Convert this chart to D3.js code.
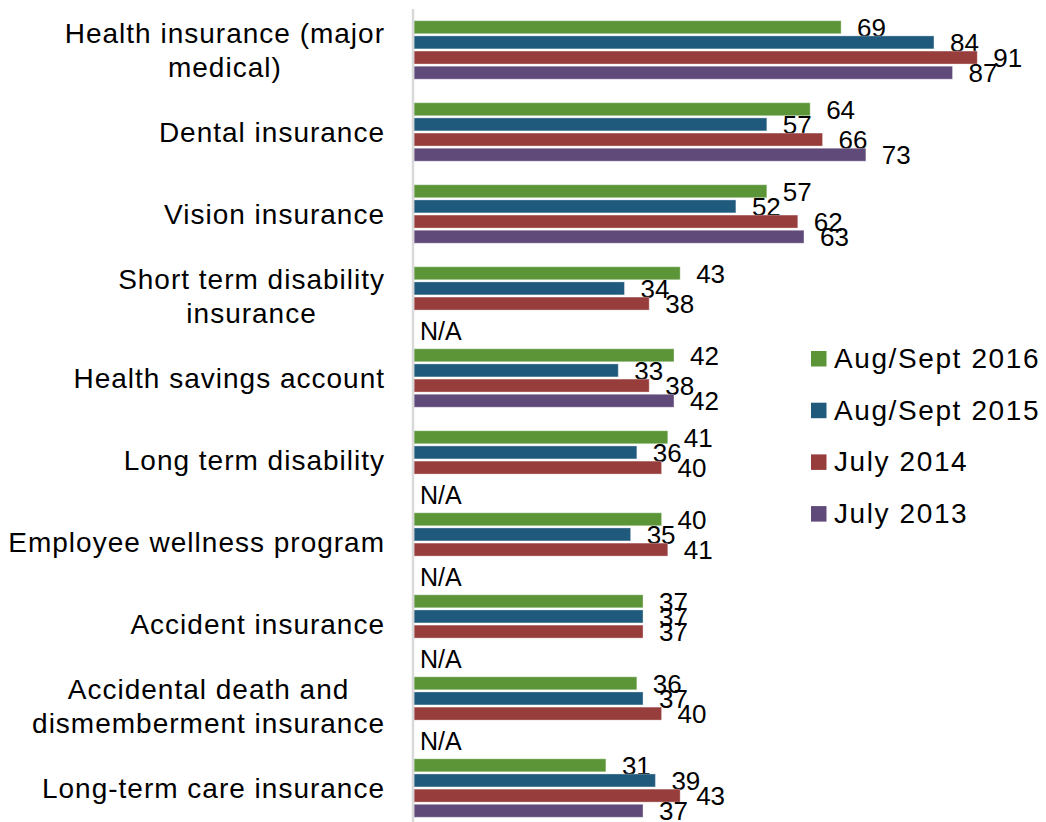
<!DOCTYPE html>
<html>
<head>
<meta charset="utf-8">
<script src="https://cdn.jsdelivr.net/npm/d3@7"></script>
<style>
  html, body { margin: 0; padding: 0; background: #fff; }
  svg { display: block; font-family: "Liberation Sans", Arial, sans-serif; }
</style>
</head>
<body>
<svg id="chart" width="1046" height="822"></svg>
<script>
// Benefit categories, top to bottom (each entry is the list of label lines)
const categories = [
  ["Health insurance (major", "medical)"],
  ["Dental insurance"],
  ["Vision insurance"],
  ["Short term disability", "insurance"],
  ["Health savings account"],
  ["Long term disability"],
  ["Employee wellness program"],
  ["Accident insurance"],
  ["Accidental death and", "dismemberment insurance"],
  ["Long-term care insurance"]
];
const seriesNames = ["Aug/Sept 2016", "Aug/Sept 2015", "July 2014", "July 2013"];
const seriesColors = ["#5b9538", "#1f5a7d", "#973d3c", "#604a7a"];

// Percent values per survey wave (null = not asked that year)
const values2016 = [69, 64, 57, 43, 42, 41, 40, 37, 36, 31];
const values2015 = [84, 57, 52, 34, 33, 36, 35, 37, 37, 39];
const values2014 = [91, 66, 62, 38, 38, 40, 41, 37, 40, 43];
const values2013 = [87, 73, 63, null, 42, null, null, null, null, 37];
const seriesValues = [values2016, values2015, values2014, values2013];

const svg = d3.select("#chart");

const catKeys = categories.map((c, i) => i);
const y0 = d3.scaleBand().domain(catKeys).range([9, 829])
  .paddingInner(0.287).paddingOuter(0.143);
const y1 = d3.scaleBand().domain(d3.range(seriesNames.length))
  .range([0, y0.bandwidth()]).paddingInner(0.143);
const x = d3.scaleLinear().domain([0, 100]).range([414, 1033]);

// Bars with value labels; missing waves get an "N/A" note
const groups = svg.append("g").selectAll("g")
  .data(catKeys).join("g")
  .attr("transform", d => `translate(0,${y0(d)})`);

groups.each(function(ci) {
  const g = d3.select(this);
  seriesValues.forEach((vals, si) => {
    const v = vals[ci];
    if (v === null) {
      g.append("text")
        .attr("x", x(0) + 6)
        .attr("y", y1(si) + y1.bandwidth() / 2 + 12)
        .attr("dy", "0.36em")
        .attr("font-size", 25)
        .attr("fill", "#000")
        .text("N/A");
      return;
    }
    g.append("rect")
      .attr("x", x(0))
      .attr("y", y1(si))
      .attr("width", x(v) - x(0))
      .attr("height", y1.bandwidth())
      .attr("fill", seriesColors[si])
      .attr("stroke", "rgba(255,255,255,0.35)")
      .attr("stroke-width", 1);
    g.append("text")
      .attr("x", x(v) + 16)
      .attr("y", y1(si) + y1.bandwidth() / 2)
      .attr("dy", "0.36em")
      .attr("font-size", 26)
      .attr("fill", "#000")
      .text(v);
  });
});

// Vertical axis line
svg.append("line")
  .attr("x1", 413).attr("x2", 413)
  .attr("y1", 9).attr("y2", 822)
  .attr("stroke", "#d9d9d9").attr("stroke-width", 2.5);

// Category labels: the block is right-aligned, wrapped lines are centred within it
const lineH = 34;
const labelRight = 385;
svg.append("g").selectAll("text")
  .data(catKeys).join("text")
  .attr("font-size", 28)
  .attr("letter-spacing", "1px")
  .attr("fill", "#000")
  .each(function(ci) {
    const lines = categories[ci];
    const cy = y0(ci) + y0.bandwidth() / 2;
    const t = d3.select(this);
    const spans = lines.map((ln, k) => t.append("tspan")
      .attr("y", cy + (k - (lines.length - 1) / 2) * lineH)
      .attr("dy", "0.36em")
      .text(ln));
    if (lines.length === 1) {
      t.attr("text-anchor", "end");
      spans[0].attr("x", labelRight);
    } else {
      const maxW = d3.max(spans, s => s.node().getComputedTextLength());
      t.attr("text-anchor", "middle");
      spans.forEach(s => s.attr("x", labelRight - maxW / 2));
    }
  });

// Legend
const legend = svg.append("g").attr("transform", "translate(811,351)");
seriesNames.forEach((name, i) => {
  const row = legend.append("g").attr("transform", `translate(0,${i * 51.7})`);
  row.append("rect").attr("width", 15.5).attr("height", 15.5).attr("fill", seriesColors[i]);
  row.append("text")
    .attr("x", 23).attr("y", 17)
    .attr("font-size", 28)
    .attr("letter-spacing", "1.6px")
    .attr("fill", "#000")
    .text(name);
});
</script>
</body>
</html>
